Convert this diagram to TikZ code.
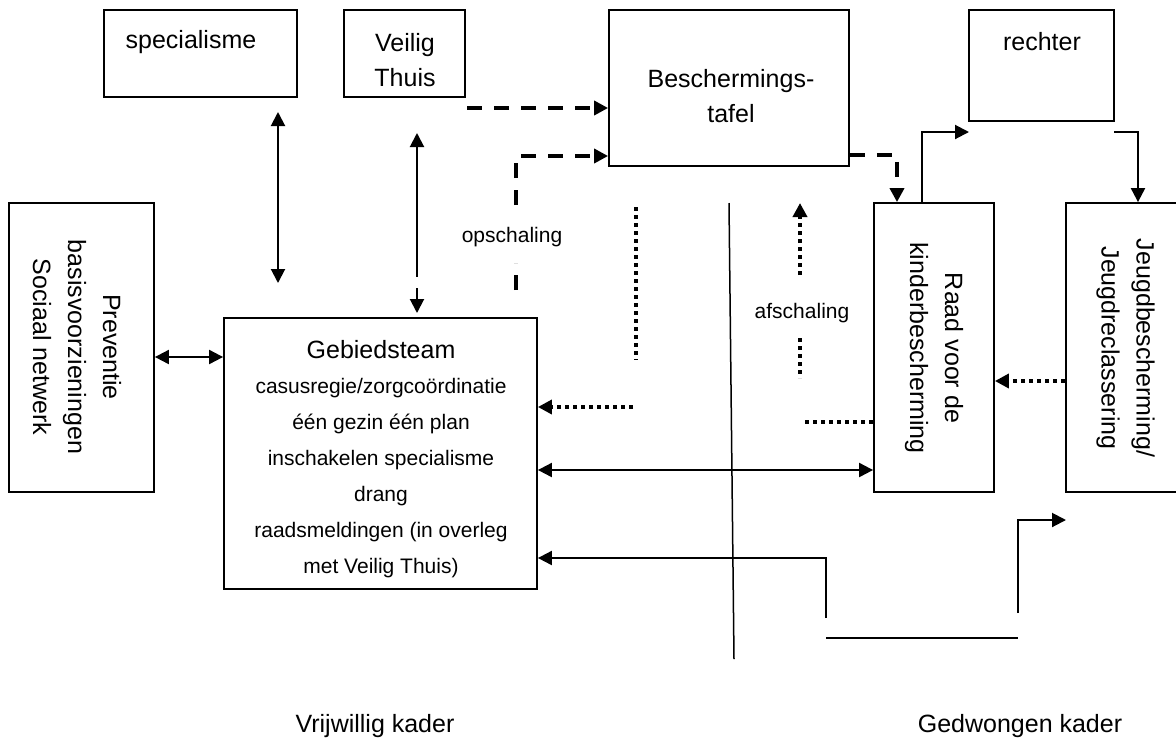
\documentclass[tikz,border=0pt]{standalone}
\usepackage{fontspec}
\setmainfont{Liberation Sans}
\usetikzlibrary{arrows.meta}
\begin{document}
\begin{tikzpicture}[x=1pt,y=-1pt,
  box/.style={draw,line width=1.8pt,inner sep=0pt},
  lbl/.style={font=\fontsize{25}{35}\selectfont,align=center,inner sep=0pt},
  small/.style={font=\fontsize{21}{36}\selectfont,align=center,inner sep=0pt},
  tip/.style={-{Triangle[length=14pt,width=14pt]}},
  stip/.style={{Triangle[length=14pt,width=14pt]}-},
  dtip/.style={{Triangle[length=14pt,width=14pt]}-{Triangle[length=14pt,width=14pt]}},
  sol/.style={line width=2pt},
  dsh/.style={line width=4pt,dash pattern=on 15pt off 12pt},
  dot/.style={line width=4pt,dash pattern=on 4pt off 4pt}]
\useasboundingbox[fill=white] (0,0) rectangle (1176,740);
% boxes
\node[box,minimum width=193pt,minimum height=87pt] (spec) at (200.5,53.5) {};
\node[lbl] (spect) at (191,42) {specialisme};
\node[box,minimum width=121pt,minimum height=87pt] (veilig) at (404.5,53.5) {};
\node[lbl] (veiligt) at (405,60) {Veilig\\Thuis};
\node[box,minimum width=240pt,minimum height=156pt] (besch) at (729,88) {};
\node[lbl] (bescht) at (731,96) {Beschermings-\\tafel};
\node[box,minimum width=145pt,minimum height=111pt] (rechter) at (1041.5,65.5) {};
\node[lbl] (rechtert) at (1042,42) {rechter};
\node[box,minimum width=145pt,minimum height=289pt] (prev) at (81.5,347.5) {};
\node[lbl,rotate=-90] (prevt) at (77,347) {Preventie\\basisvoorzieningen\\Sociaal netwerk};
\node[box,minimum width=313pt,minimum height=271pt] (geb) at (380.5,453.5) {};
\node[lbl] (gebt) at (381,350) {Gebiedsteam};
\node[small] (gebb) at (381,478) {casusregie/zorgcoördinatie\\één gezin één plan\\inschakelen specialisme\\drang\\raadsmeldingen (in overleg\\met Veilig Thuis)};
\node[box,minimum width=120pt,minimum height=289pt] (raad) at (934,347.5) {};
\node[lbl,rotate=-90] (raadt) at (934,348) {Raad voor de\\kinderbescherming};
\node[box,minimum width=120pt,minimum height=289pt] (jeugd) at (1126,347.5) {};
\node[lbl,rotate=-90] (jeugdt) at (1125.5,348) {Jeugdbescherming/\\Jeugdreclassering};
% labels
\node[small] (ops) at (512,237) {opschaling};
\node[small] (afs) at (802,313) {afschaling};
\node[lbl] (vk) at (375,726) {Vrijwillig kader};
\node[lbl] (gk) at (1020,726) {Gedwongen kader};
% coordinates
\coordinate (sA) at (278,112); \coordinate (sB) at (278,283);
\coordinate (vA) at (417,133); \coordinate (vM) at (417,277);
\coordinate (vN) at (417,288); \coordinate (vB) at (417,313);
\coordinate (y357) at (0,357);
\coordinate (d1) at (467,108);
\coordinate (o1) at (516,290); \coordinate (o2) at (516,263);
\coordinate (o3) at (516,205); \coordinate (o4) at (516,156);
\coordinate (y155) at (0,155);
\coordinate (x897) at (897,0);
\coordinate (x922) at (922,0);
\coordinate (r1) at (969,132);
\coordinate (r2) at (1114,132);
\coordinate (x1138) at (1138,0);
\coordinate (y381) at (0,381);
\coordinate (dv1) at (636,207); \coordinate (dv2) at (636,360);
\coordinate (dh1) at (633,407);
\coordinate (dh2) at (805,422);
\coordinate (a1) at (800,275); \coordinate (a2) at (800,203);
\coordinate (a3) at (800,338); \coordinate (a4) at (800,378);
\coordinate (y470) at (0,470);
\coordinate (b1) at (826,618); \coordinate (b2) at (826,558);
\coordinate (c1) at (826,638); \coordinate (c2) at (1018,638);
\coordinate (e1) at (1018,613); \coordinate (e2) at (1066,520);
\coordinate (L1) at (729,203); \coordinate (L2) at (734,659);
% connectors
\draw[sol,dtip] (sA) -- (sB);
\draw[sol,stip] (vA) -- (vM);
\draw[sol,tip] (vN) -- (vB);
\draw[sol,dtip] (prev.east |- y357) -- (geb.west |- y357);
\draw[dsh,tip] (d1) -- (besch.west |- d1);
\draw[dsh] (o1) -- (o2);
\draw[dsh,tip] (o3) -- (o4) -- (besch.west |- o4);
\draw[dsh,tip] (besch.east |- y155) -| (raad.north -| x897);
\draw[sol,tip] (raad.north -| x922) |- (r1);
\draw[sol,tip] (r2) -| (jeugd.north -| x1138);
\draw[dot,tip] (jeugd.west |- y381) -- (raad.east |- y381);
\draw[dot] (dv1) -- (dv2);
\draw[dot,tip] (dh1) -- (geb.east |- dh1);
\draw[dot] (dh2) -- (raad.west |- dh2);
\draw[dot,tip] (a1) -- (a2);
\draw[dot] (a3) -- (a4);
\draw[sol,dtip] (geb.east |- y470) -- (raad.west |- y470);
\draw[sol,tip] (b1) -- (b2) -- (geb.east |- b2);
\draw[sol] (c1) -- (c2);
\draw[sol,tip] (e1) |- (e2);
\draw[line width=1.5pt] (L1) -- (L2);
\end{tikzpicture}
\end{document}
